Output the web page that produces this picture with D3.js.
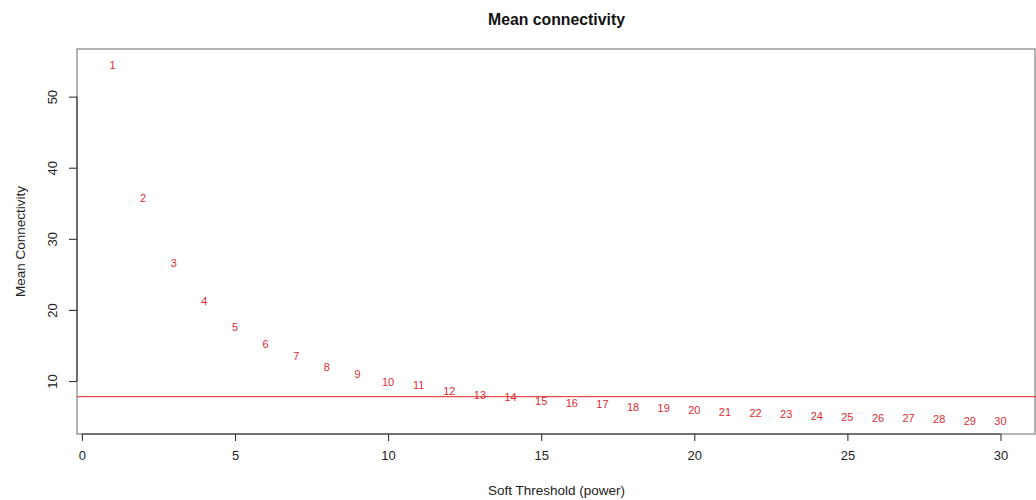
<!DOCTYPE html>
<html>
<head>
<meta charset="utf-8">
<script src="https://cdn.jsdelivr.net/npm/d3@7"></script>
<style>
  body { margin: 0; background: #fff; }
  svg { font-family: "Liberation Sans", Arial, sans-serif; }
</style>
</head>
<body>
<div id="chart"></div>
<script>
// soft threshold powers and mean connectivity
var powers = d3.range(1, 31);
var meanK = [54.4, 35.8, 26.6, 21.2, 17.6, 15.2, 13.5, 12.0, 11.0, 9.9,
             9.44, 8.64, 8.03, 7.8, 7.23, 6.95, 6.73, 6.39, 6.25, 5.93,
             5.69, 5.46, 5.32, 5.08, 4.9, 4.76, 4.76, 4.62, 4.42, 4.38];
var xTicks = [0, 5, 10, 15, 20, 25, 30];
var yTicks = [10, 20, 30, 40, 50];
var yDomain = [2.55, 56.7];
var cutLine = 7.8;

var width = 1036, height = 500;
var margin = { top: 49, right: 0, bottom: 66, left: 77 };

var svg = d3.select("#chart")
            .append("svg")
            .attr("width", width)
            .attr("height", height);

// R-style 4% padding on x
var xPad = (30 - 1) * 0.04;

var x = d3.scaleLinear()
          .domain([1 - xPad, 30 + xPad])
          .range([margin.left, width - margin.right]);

var y = d3.scaleLinear()
          .domain(yDomain)
          .range([height - margin.bottom, margin.top]);

// plot box
svg.append("rect")
   .attr("x", margin.left)
   .attr("y", margin.top)
   .attr("width", width - margin.right - margin.left - 1)
   .attr("height", height - margin.bottom - margin.top)
   .attr("fill", "none")
   .attr("stroke", "#8a8a8a")
   .attr("stroke-width", 1.3);

// x axis
var xAxis = svg.append("g")
   .attr("transform", "translate(0," + (height - margin.bottom) + ")")
   .call(d3.axisBottom(x).tickValues(xTicks).tickSize(7).tickPadding(10));

// y axis (rotated labels like R)
var yAxis = svg.append("g")
   .attr("transform", "translate(" + margin.left + ",0)")
   .call(d3.axisLeft(y).tickValues(yTicks).tickSize(8).tickSizeOuter(0));

xAxis.select(".domain")
     .attr("d", "M" + x(0) + ",0H" + x(30));
yAxis.select(".domain")
     .attr("d", "M0," + y(10) + "V" + y(50));

svg.selectAll(".domain, .tick line")
   .attr("stroke", "#333")
   .attr("stroke-width", 1.1);

svg.selectAll(".tick text")
   .attr("fill", "#222")
   .style("font-size", "13px")
   .style("font-family", "Liberation Sans, Arial, sans-serif");

yAxis.selectAll(".tick text")
     .attr("text-anchor", "middle")
     .attr("x", 0)
     .attr("dy", 0)
     .attr("transform", "translate(-23,0) rotate(-90)")
     .attr("dominant-baseline", "middle");

// title
svg.append("text")
   .attr("x", (margin.left + width - margin.right) / 2)
   .attr("y", 25)
   .attr("text-anchor", "middle")
   .style("font-size", "15.8px")
   .style("font-weight", "bold")
   .attr("fill", "#111")
   .text("Mean connectivity");

// axis titles
svg.append("text")
   .attr("x", (margin.left + width - margin.right) / 2)
   .attr("y", 495)
   .attr("text-anchor", "middle")
   .style("font-size", "13.5px")
   .attr("fill", "#222")
   .text("Soft Threshold (power)");

svg.append("text")
   .attr("transform", "rotate(-90)")
   .attr("x", -(margin.top + height - margin.bottom) / 2)
   .attr("y", 25)
   .attr("text-anchor", "middle")
   .style("font-size", "13.5px")
   .attr("fill", "#222")
   .text("Mean Connectivity");

// horizontal cut-off line
svg.append("line")
   .attr("x1", margin.left)
   .attr("x2", width - margin.right)
   .attr("y1", y(cutLine))
   .attr("y2", y(cutLine))
   .attr("stroke", "#e05050")
   .attr("stroke-width", 1.2);

// power labels at each point
svg.selectAll(".lab")
   .data(powers)
   .enter()
   .append("text")
   .attr("class", "lab")
   .attr("x", function(d) { return x(d); })
   .attr("y", function(d, i) { return y(meanK[i]); })
   .attr("text-anchor", "middle")
   .attr("dominant-baseline", "central")
   .style("font-size", "11px")
   .attr("fill", "#dd2b33")
   .text(function(d) { return d; });
</script>
</body>
</html>
